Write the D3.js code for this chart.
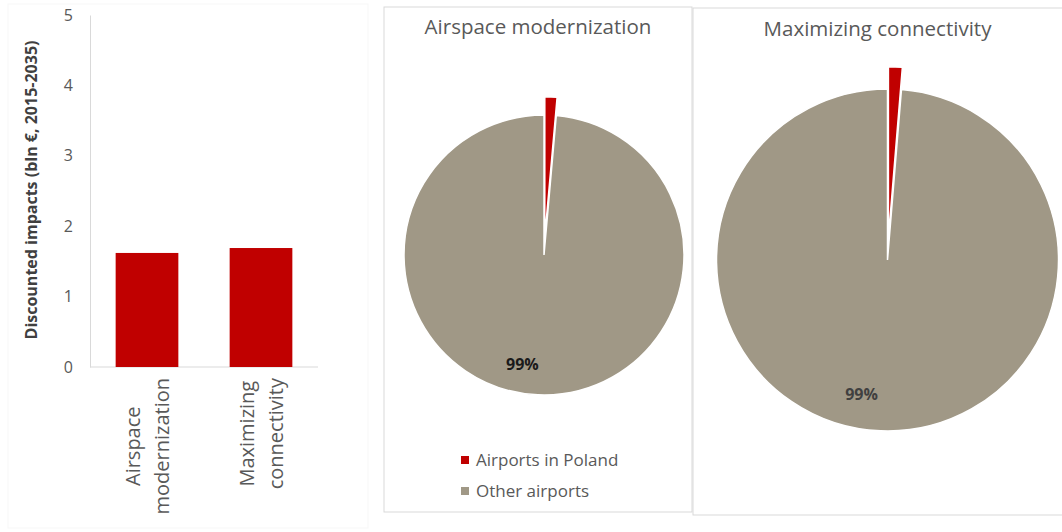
<!DOCTYPE html>
<html>
<head>
<meta charset="utf-8">
<script src="https://cdn.jsdelivr.net/npm/d3@7"></script>
<style>
  body { margin: 0; background: #fff; }
  svg text { font-family: 'Open Sans', sans-serif; }
</style>
</head>
<body>
<div id="chart"></div>
<script>
// bar chart data
var barCategories = ['Airspace modernization', 'Maximizing connectivity'];
var barValues = [1.62, 1.69];
var yTicks = [0, 1, 2, 3, 4, 5];
var yTitle = 'Discounted impacts (bln \u20ac, 2015-2035)';

// pie data
var pieTitles = ['Airspace modernization', 'Maximizing connectivity'];
var legendLabels = ['Airports in Poland', 'Other airports'];
var polandShare = [1.4, 1.3];
var otherShare = [98.6, 98.7];

var w = 1062;
var h = 532;
var red = '#C00000';
var grey = '#A09886';
var textGrey = '#595959';

var svg = d3.select('#chart')
  .append('svg')
  .attr('width', w)
  .attr('height', h);

// ---- bar chart ----
var y = d3.scaleLinear().domain([0, 5]).range([367, 15]);
var x = d3.scaleBand().domain(barCategories).range([90, 318]).paddingInner(0.45).paddingOuter(0.225);

// faint panel frame
svg.append('rect')
  .attr('x', 8).attr('y', 4).attr('width', 360).attr('height', 524)
  .attr('fill', 'none').attr('stroke', '#f7f7f7');

var yAxis = svg.append('g')
  .attr('transform', 'translate(90,0)')
  .call(d3.axisLeft(y).tickValues(yTicks).tickFormat(d3.format('d')).tickSize(0).tickPadding(17));
yAxis.select('.domain').attr('stroke', '#d9d9d9');
yAxis.selectAll('text')
  .attr('font-size', '16px')
  .attr('fill', textGrey);

svg.append('line')
  .attr('x1', 90).attr('x2', 318)
  .attr('y1', y(0)).attr('y2', y(0))
  .attr('stroke', '#d9d9d9');

svg.selectAll('.bar')
  .data(barValues)
  .enter()
  .append('rect')
  .attr('class', 'bar')
  .attr('x', function (d, i) { return x(barCategories[i]); })
  .attr('y', function (d) { return y(d); })
  .attr('width', x.bandwidth())
  .attr('height', function (d) { return y(0) - y(d); })
  .attr('fill', red);

// rotated category labels, two lines each
barCategories.forEach(function (c) {
  var lines = c.split(' ');
  var cx = x(c) + x.bandwidth() / 2;
  var g = svg.append('g');
  var texts = g.selectAll('text')
    .data(lines)
    .enter()
    .append('text')
    .text(function (d) { return d; })
    .attr('font-size', '20px')
    .attr('fill', textGrey)
    .attr('text-anchor', 'middle');
  var maxLen = d3.max(texts.nodes(), function (n) { return n.getComputedTextLength(); });
  var cy = 378 + maxLen / 2;
  texts.attr('transform', function (d, i) {
    var bx = cx + (i - 0.5) * 29 + 7;
    return 'translate(' + bx + ',' + cy + ') rotate(-90)';
  });
});

svg.append('text')
  .text(yTitle)
  .attr('transform', 'translate(37,190) rotate(-90)')
  .attr('text-anchor', 'middle')
  .attr('font-size', '16px')
  .attr('font-weight', 'bold')
  .attr('fill', '#404040');

// ---- pies ----
var panels = [
  { x0: 384, y0: 7, x1: 692, y1: 512, cx: 544, cy: 255, r: 140, titleY: 34, labelColor: '#1a1a1a', legend: true },
  { x0: 693, y0: 8, x1: 1066, y1: 515, cx: 887.5, cy: 260, r: 171, titleY: 36, labelColor: '#404040', legend: false }
];

var pie = d3.pie().sort(null).value(function (d) { return d; });

panels.forEach(function (p, k) {
  svg.append('rect')
    .attr('x', p.x0).attr('y', p.y0)
    .attr('width', p.x1 - p.x0).attr('height', p.y1 - p.y0)
    .attr('fill', 'none').attr('stroke', '#d9d9d9');

  svg.append('text')
    .text(pieTitles[k])
    .attr('x', (p.x0 + p.x1 - (k == 1 ? 4 : 0)) / 2)
    .attr('y', p.titleY)
    .attr('text-anchor', 'middle')
    .attr('font-size', '20.5px')
    .attr('fill', textGrey);

  var arcs = pie([polandShare[k], otherShare[k]]);
  var arc = d3.arc().innerRadius(0).outerRadius(p.r);
  var explode = p.r * 0.13;
  var g = svg.append('g').attr('transform', 'translate(' + p.cx + ',' + p.cy + ')');

  g.selectAll('path')
    .data(arcs)
    .enter()
    .append('path')
    .attr('d', arc)
    .attr('fill', function (d, i) { return i == 0 ? red : grey; })
    .attr('stroke', '#fff')
    .attr('stroke-width', 1.5)
    .attr('transform', function (d, i) {
      if (i != 0) return null;
      var mid = (d.startAngle + d.endAngle) / 2;
      return 'translate(' + Math.sin(mid) * explode + ',' + -Math.cos(mid) * explode + ')';
    });

  // percentage label for the large slice
  var big = arcs[1];
  var ang = (big.startAngle + big.endAngle) / 2 + 0.15;
  var lr = p.r * 0.8;
  g.append('text')
    .text(Math.round(big.data) + '%')
    .attr('x', Math.sin(ang) * lr)
    .attr('y', -Math.cos(ang) * lr)
    .attr('dy', '0.35em')
    .attr('text-anchor', 'middle')
    .attr('font-size', '16px')
    .attr('font-weight', 'bold')
    .attr('fill', p.labelColor);

  if (p.legend) {
    var lg = svg.selectAll('.legend')
      .data(legendLabels)
      .enter()
      .append('g')
      .attr('class', 'legend')
      .attr('transform', function (d, i) { return 'translate(461,' + (460 + i * 31) + ')'; });
    lg.append('rect')
      .attr('x', 0).attr('y', -4)
      .attr('width', 8).attr('height', 8)
      .attr('fill', function (d, i) { return i == 0 ? red : grey; });
    lg.append('text')
      .text(function (d) { return d; })
      .attr('x', 15)
      .attr('dy', '0.35em')
      .attr('font-size', '17px')
      .attr('fill', textGrey);
  }
});
</script>
</body>
</html>
